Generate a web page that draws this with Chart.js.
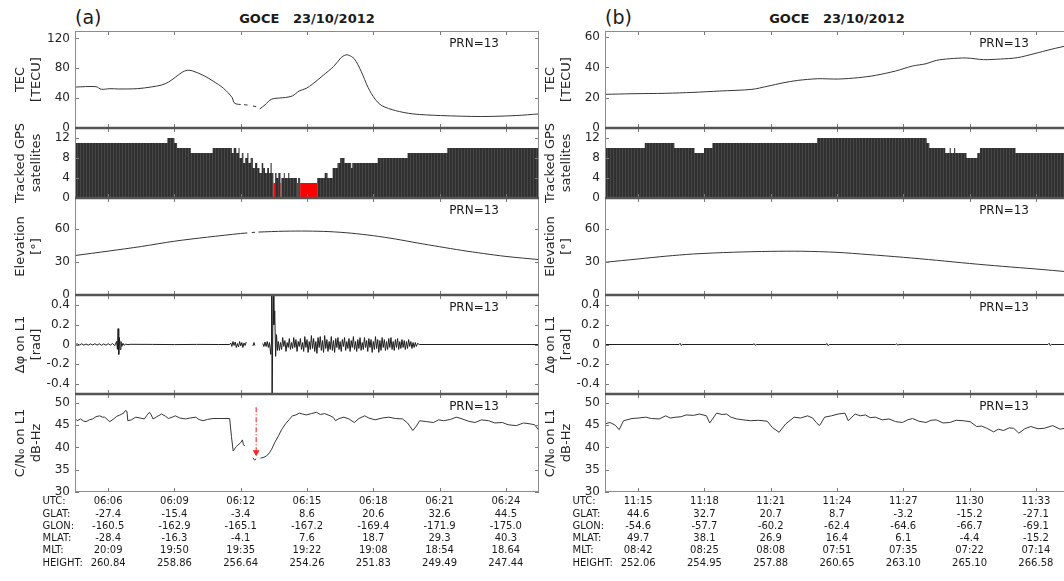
<!DOCTYPE html>
<html>
<head>
<meta charset="utf-8">
<script src="https://cdn.jsdelivr.net/npm/chart.js@4.4.1/dist/chart.umd.min.js"></script>
<style>
  body { margin: 0; background: #fff; }
  #fig { position: relative; width: 1064px; height: 581px; overflow: hidden; background: #fff; font-family: 'DejaVu Sans', sans-serif; color: #1a1a1a; }
  #fig canvas { position: absolute; }
  .tag { position: absolute; font-size: 19px; line-height: 22px; }
  .ttl { position: absolute; width: 464px; text-align: center; font-weight: bold; font-size: 13px; line-height: 15px; white-space: pre; }
</style>
</head>
<body>
<div id="fig">
  <div class="tag" style="left:75px;top:6px">(a)</div>
  <div class="ttl" style="left:75px;top:11px">GOCE   23/10/2012</div>
  <div class="tag" style="left:605px;top:6px">(b)</div>
  <div class="ttl" style="left:605px;top:11px">GOCE   23/10/2012</div>
</div>
<script>
"use strict";

// ---- time axis (minutes after the hour) ----
const xTicksA = [6, 9, 12, 15, 18, 21, 24];
const xTicksB = [15, 18, 21, 24, 27, 30, 33];

// ---- orbit table under the plots ----
const rowNames = ['UTC:', 'GLAT:', 'GLON:', 'MLAT:', 'MLT:', 'HEIGHT:'];
const utcA = ['06:06', '06:09', '06:12', '06:15', '06:18', '06:21', '06:24'];
const glatA = ['-27.4', '-15.4', '-3.4', '8.6', '20.6', '32.6', '44.5'];
const glonA = ['-160.5', '-162.9', '-165.1', '-167.2', '-169.4', '-171.9', '-175.0'];
const mlatA = ['-28.4', '-16.3', '-4.1', '7.6', '18.7', '29.3', '40.3'];
const mltA = ['20:09', '19:50', '19:35', '19:22', '19:08', '18:54', '18.64'];
const heightA = ['260.84', '258.86', '256.64', '254.26', '251.83', '249.49', '247.44'];
const utcB = ['11:15', '11:18', '11:21', '11:24', '11:27', '11:30', '11:33'];
const glatB = ['44.6', '32.7', '20.7', '8.7', '-3.2', '-15.2', '-27.1'];
const glonB = ['-54.6', '-57.7', '-60.2', '-62.4', '-64.6', '-66.7', '-69.1'];
const mlatB = ['49.7', '38.1', '26.9', '16.4', '6.1', '-4.4', '-15.2'];
const mltB = ['08:42', '08:25', '08:08', '07:51', '07:35', '07:22', '07:14'];
const heightB = ['252.06', '254.95', '257.88', '260.65', '263.10', '265.10', '266.58'];

// ---- y ticks ----
const tecTicksA = [0, 40, 80, 120];
const tecTicksB = [0, 20, 40, 60];
const satTicks = [0, 4, 8, 12];
const elevTicks = [0, 30, 60];
const dphiTicks = [-0.4, -0.2, 0, 0.2, 0.4];
const cnTicks = [30, 35, 40, 45, 50];

// ---- TEC [TECU] ----
const tecA = [[4.5,54.9],[5.45,55.4],[5.69,51.9],[6.08,52.7],[6.47,52.3],[7.32,52.7],[7.95,55],[8.42,57.6],[8.73,61.5],
  [9.04,68],[9.35,74.7],[9.58,77.4],[9.82,76.5],[10.29,70.8],[10.75,62.9],[11.22,53.2],[11.61,40.9],[11.69,34.3],
  [11.8,32.2],[12.0,31.5],[12.08,null],[12.15,31.2],[12.31,30.8],[12.4,null],[12.55,29.5],[12.7,28.6],[12.78,null],
  [12.86,25.5],[13.1,31],[13.4,38.7],[14.03,40.9],[14.34,43],[14.65,49.7],[14.96,53],[15.27,59.3],[15.74,70.8],
  [16.21,82.6],[16.52,93.6],[16.67,97],[16.85,98],[17.14,92.7],[17.45,76],[17.77,54],[18.08,38.7],[18.39,29.9],
  [19.01,23.3],[19.79,18.9],[21.04,16.7],[22.91,15.4],[24.47,16.7],[25.5,18.9]];
const tecB = [[13.5,22.2],[14.72,22.6],[16.25,22.9],[17.48,23.5],[18.7,24.4],[20.15,25.5],[20.84,27.5],[21.6,29.9],
  [22.22,31.4],[23.13,32.5],[24.05,32.3],[24.97,33.2],[25.73,34.7],[26.65,37.6],[27.42,40.9],[28.03,42.4],[28.49,44.6],
  [29.1,45.7],[29.86,46.2],[30.63,45.1],[31.39,45.5],[32.16,46.4],[32.92,49],[33.69,51.9],[34.5,54.6]];

// ---- tracked GPS satellites (value holds from each time on) ----
const satsA = [[4.5,11],[8.68,12],[9.0,11],[9.12,10],[9.74,9],[10.73,10],[11.6,9],[11.68,10],[11.8,9],[11.9,10],
  [11.95,8],[12.05,9],[12.12,7],[12.2,8],[12.3,9],[12.35,7],[12.45,8],[12.55,6],[12.65,7],[12.75,6],[12.85,5],
  [12.95,7],[13.02,6],[13.1,5],[13.2,6],[13.28,5],[13.35,7],[13.4,5],[13.48,3],[13.55,5],[13.62,4],[13.7,5],
  [13.8,3],[13.84,4],[13.95,5],[14.0,4],[14.15,5],[14.2,4],[14.55,3],[14.6,4],[14.69,3],[15.46,4],[15.8,5],
  [15.93,4],[16.16,6],[16.38,7],[16.5,8],[16.7,7],[17.0,6],[17.05,7],[18.2,8],[19.55,9],[21.35,10],[25.5,10]];
const satsB = [[13.5,10],[15.3,11],[16.64,10],[17.55,9],[17.98,10],[18.36,11],[23.1,12],[28.06,11],[28.18,10],
  [28.9,9],[29.1,10],[29.15,9],[29.3,10],[29.35,9],[29.86,8],[30.35,9],[30.47,10],[32.08,9],[34.5,9]];

// ---- elevation [deg] ----
const elevA = [[4.5,35.8],[6,39.8],[7.5,44],[9,48.8],[10.5,52.5],[12,55.8],[12.3,56.3],[12.36,null],[12.5,56.7],
  [12.65,56.9],[12.72,null],[12.8,57.1],[14,57.9],[15,58],[16,57.5],[17,56.1],[18,53.8],[19,50.8],[20,47.2],
  [21,43.8],[22,40.5],[23,37.6],[24,35],[25.5,32.1]];
const elevB = [[13.5,29.7],[15,32.7],[16.25,35.2],[17.5,37.2],[19.3,38.8],[21,39.6],[22.4,39.7],[24,38.7],
  [25.4,36.7],[27,34.2],[28.5,31.5],[30,28.6],[31.5,26],[33,23.6],[34.5,21]];

// ---- phase fluctuation on L1 [rad] ----
const dphiA = [[4.5,0],[4.6,0.006],[4.7,-0.005],[4.8,0.007],[4.9,-0.006],[5.0,0.005],[5.1,-0.007],[5.2,0.006],
  [5.3,-0.005],[5.4,0.008],[5.5,-0.006],[5.6,0.007],[5.7,-0.008],[5.8,0.006],[5.9,-0.007],[6.0,0.008],[6.1,-0.006],
  [6.2,0.01],[6.3,-0.012],[6.38,0.03],[6.42,-0.05],[6.45,0.16],[6.48,-0.1],[6.51,0.07],[6.54,-0.05],[6.58,0.03],
  [6.62,-0.02],[6.67,0.012],[6.72,-0.008],[6.8,0.004],[6.9,-0.002],[7.0,0.002],[8,0.001],[9,-0.001],[10,0.001],
  [11,0],[11.5,0],[11.55,0.015],[11.6,-0.02],[11.65,0.03],[11.7,-0.01],[11.75,0.025],[11.8,-0.03],[11.85,0.01],
  [11.9,-0.025],[11.95,0.03],[12.0,-0.015],[12.05,0.02],[12.1,-0.03],[12.15,0.015],[12.2,-0.01],[12.25,0.025],
  [12.3,null],[12.55,-0.015],[12.6,0.02],[12.64,-0.01],[12.7,null],[13.0,0.01],[13.05,-0.02],[13.1,0.025],
  [13.15,-0.02],[13.2,0.03],[13.25,-0.03],[13.3,0.02],[13.36,-0.1],[13.38,0],[13.4,0.7],[13.42,-0.7],[13.45,-0.7],
  [13.47,0.7],[13.5,0.2],[13.54,0.34],[13.58,-0.12],[13.62,0.1],[13.66,-0.06],
  [13.7,0.03],[13.75,-0.06],[13.8,0.02],[13.85,-0.05],[13.9,0.07],[13.95,-0.02],[14.0,0.04],[14.05,-0.07],
  [14.1,0.02],[14.15,-0.03],[14.2,0.06],[14.25,-0.05],[14.3,0.02],[14.35,-0.04],[14.4,0.07],[14.45,-0.03],
  [14.5,0.05],[14.55,-0.07],[14.6,0.03],[14.65,-0.02],[14.7,0.06],[14.75,-0.05],[14.8,0.02],[14.85,-0.07],
  [14.9,0.08],[14.95,-0.03],[15.0,0.05],[15.05,-0.08],[15.1,0.03],[15.15,-0.05],[15.2,0.09],[15.25,-0.04],
  [15.3,0.06],[15.35,-0.07],[15.4,0.03],[15.45,-0.09],[15.5,0.07],[15.55,-0.03],[15.6,0.08],[15.65,-0.06],
  [15.7,0.04],[15.75,-0.08],[15.8,0.09],[15.85,-0.04],[15.9,0.05],[15.95,-0.07],[16.0,0.03],[16.05,-0.05],
  [16.1,0.08],[16.15,-0.06],[16.2,0.04],[16.25,-0.08],[16.3,0.06],[16.35,-0.03],[16.4,0.07],[16.45,-0.05],
  [16.5,0.03],[16.55,-0.07],[16.6,0.05],[16.65,-0.02],[16.7,0.07],[16.75,-0.06],[16.8,0.03],[16.85,-0.04],
  [16.9,0.06],[16.95,-0.07],[17.0,0.04],[17.05,-0.03],[17.1,0.08],[17.15,-0.05],[17.2,0.03],[17.25,-0.07],
  [17.3,0.05],[17.35,-0.04],[17.4,0.07],[17.45,-0.06],[17.5,0.02],[17.55,-0.05],[17.6,0.07],[17.65,-0.03],
  [17.7,0.04],[17.75,-0.07],[17.8,0.06],[17.85,-0.03],[17.9,0.05],[17.95,-0.08],[18.0,0.03],[18.05,-0.05],
  [18.1,0.08],[18.15,-0.04],[18.2,0.05],[18.25,-0.08],[18.3,0.04],[18.35,-0.06],[18.4,0.07],[18.45,-0.03],
  [18.5,0.05],[18.55,-0.06],[18.6,0.03],[18.65,-0.05],[18.7,0.06],[18.75,-0.03],[18.8,0.07],[18.85,-0.05],
  [18.9,0.03],[18.95,-0.06],[19.0,0.05],[19.05,-0.03],[19.1,0.06],[19.15,-0.05],[19.2,0.03],[19.25,-0.04],
  [19.3,0.05],[19.35,-0.03],[19.4,0.04],[19.45,-0.05],[19.5,0.03],[19.55,-0.04],[19.6,0.05],[19.65,-0.02],
  [19.7,0.03],[19.75,-0.04],[19.8,0.02],[19.85,-0.03],[19.9,0.02],[19.95,-0.02],[20.0,0.01],[20.1,0],[25.5,0]];
const dphiB = [[13.5,0],[16.85,0],[16.9,0.012],[16.95,-0.01],[17.0,0],[20.2,0],[20.25,0.008],[20.3,-0.008],
  [20.35,0],[23.5,0],[23.55,0.01],[23.6,-0.012],[23.65,0],[26.65,0],[26.7,0.007],[26.75,-0.007],[26.8,0],
  [33.55,0],[33.6,0.012],[33.65,-0.01],[33.7,0],[34.5,0]];

// ---- C/N0 on L1 [dB-Hz] ----
const cnA = [[4.5,46.5],[4.6,46],[4.75,46.4],[4.9,45.9],[5.0,45.8],[5.15,46.2],[5.3,46.4],[5.45,46.9],[5.61,47.1],
  [5.75,46.8],[5.84,46.8],[6.0,46.1],[6.08,45.8],[6.25,46.4],[6.39,47],[6.5,47.2],[6.62,47.5],[6.72,47.8],
  [6.78,48.3],[6.85,48.1],[6.89,46],[7.05,46.2],[7.25,46.8],[7.45,46.6],[7.64,46.4],[7.75,47.2],[7.87,47.9],
  [7.95,47.3],[8.03,46.4],[8.2,46.9],[8.42,47.5],[8.6,47],[8.73,46.5],[8.9,46.8],[9.04,47.1],[9.25,46.6],
  [9.51,46.4],[9.7,46.6],[9.97,46.8],[10.1,46.3],[10.29,46],[10.5,46.3],[10.75,46.5],[11.1,46.5],[11.5,46.5],
  [11.58,42.5],[11.66,39.2],[11.8,40.2],[12.0,41.1],[12.08,41.7],[12.12,40.6],[12.19,40.4],[12.25,null],
  [12.55,37.7],[12.62,37.2],[12.7,37.4],[12.78,null],[12.89,37.6],[13.05,37.8],[13.17,38.1],[13.3,38.8],
  [13.4,39.6],[13.55,41.2],[13.71,42.6],[13.85,44],[14.03,45.3],[14.2,46.3],[14.34,47.1],[14.5,47.3],[14.65,47.7],
  [14.8,47.5],[14.96,47.3],[15.2,47.6],[15.43,47.9],[15.6,47.4],[15.8,47.6],[16.05,47.1],[16.2,46.7],[16.29,46],
  [16.45,46.5],[16.67,46.8],[16.9,46.4],[17.14,45.6],[17.35,46.5],[17.61,47.1],[17.8,46.6],[18.08,46.2],
  [18.4,46.6],[18.7,46.8],[19.0,46.5],[19.32,46.4],[19.55,45.5],[19.79,43.8],[19.95,44.8],[20.1,46],[20.4,45.8],
  [20.73,45.6],[20.95,46.2],[21.19,46],[21.5,46.3],[21.75,46.8],[21.97,46.5],[22.3,45.9],[22.6,45.6],[22.9,46.2],
  [23.22,46],[23.5,45.5],[23.84,45.6],[24.1,45.1],[24.47,44.9],[24.8,45.5],[25.09,45.3],[25.3,45.1],[25.5,43.8]];
const cnB = [[13.5,45.3],[13.73,45.6],[13.96,45],[14.14,44],[14.34,46],[14.72,46.5],[15.0,46.6],[15.34,46.8],
  [15.6,46.5],[15.95,46.4],[16.25,47.1],[16.45,46.6],[16.71,46.8],[16.95,46.9],[17.17,47.3],[17.5,47.2],
  [17.78,47.5],[18.09,47.1],[18.24,45.5],[18.55,47.7],[18.8,47.4],[19.0,47.5],[19.2,46.8],[19.46,46.4],
  [19.75,46.2],[20.08,46],[20.45,46.1],[20.84,45.9],[21.07,44.5],[21.38,43.4],[21.68,45.3],[22.06,46.8],
  [22.35,46.6],[22.67,47.1],[22.9,46.6],[23.06,45.6],[23.21,44.9],[23.44,46.8],[23.75,47.1],[24.05,47.5],
  [24.36,47.7],[24.51,46],[24.82,47.5],[25.05,47.1],[25.28,47.3],[25.5,46.7],[25.73,46.8],[26.05,46.2],
  [26.35,46.4],[26.65,45.8],[26.96,45.6],[27.2,46.2],[27.42,46.5],[27.7,45.9],[28.03,45.6],[28.25,46.1],
  [28.49,46.2],[28.8,45.5],[29.1,45.6],[29.4,46.1],[29.71,46],[30.02,45.8],[30.32,44.7],[30.55,44.8],
  [30.78,44.3],[31.09,43.5],[31.3,44.1],[31.54,43.8],[31.8,44.4],[32.0,44.3],[32.23,43.2],[32.5,44.2],
  [32.77,44.7],[33.1,44.2],[33.38,44.3],[33.76,44.9],[34.1,44.1],[34.5,44.5]];
const arrowA = [[12.7,49],[12.7,38.9]];

// ---- drawing ----
const FONT = "'DejaVu Sans', 'Liberation Sans', sans-serif";
const LINE = '#363636';
const INK = '#262626';
Chart.defaults.font.family = FONT;
Chart.defaults.color = INK;

const toXY = arr => arr.map(p => ({x: p[0], y: p[1]}));

const barFill = (() => {
  const c = document.createElement('canvas');
  c.width = 3; c.height = 4;
  const g = c.getContext('2d');
  g.fillStyle = '#303030'; g.fillRect(0, 0, 3, 4);
  g.fillStyle = '#474747'; g.fillRect(2, 0, 1, 4);
  return g.createPattern(c, 'repeat');
})();

const ROWS = {
  tec:  {top: 31,  bottom: 128},
  sats: {top: 128, bottom: 198},
  elev: {top: 198, bottom: 295},
  dphi: {top: 295, bottom: 394},
  cn:   {top: 394, bottom: 492}
};
const PAD_T = 14, PAD_B = 14, TABLE_H = 85, LINE_H = 12.3, TABLE_PAD = 3.5;

// box, inward ticks, PRN text and row names
const frame = {
  id: 'frame',
  afterDraw(chart, args, o) {
    const {ctx, chartArea: a, scales: {x, y}} = chart;
    ctx.save();
    ctx.strokeStyle = '#7a7a7a';
    ctx.lineWidth = 1;
    ctx.beginPath();
    x.ticks.forEach(t => {
      const px = Math.round(x.getPixelForValue(t.value)) + 0.5;
      ctx.moveTo(px, a.top); ctx.lineTo(px, a.top + 4);
      ctx.moveTo(px, a.bottom); ctx.lineTo(px, a.bottom - 4);
    });
    y.ticks.forEach(t => {
      const py = Math.round(y.getPixelForValue(t.value)) + 0.5;
      ctx.moveTo(a.left, py); ctx.lineTo(a.left + 4, py);
      ctx.moveTo(a.right, py); ctx.lineTo(a.right - 4, py);
    });
    ctx.stroke();

    ctx.strokeStyle = '#8c8c8c';
    ctx.beginPath();
    ctx.moveTo(a.left + 0.5, a.top); ctx.lineTo(a.left + 0.5, a.bottom);
    ctx.moveTo(a.right - 0.5, a.top); ctx.lineTo(a.right - 0.5, a.bottom);
    ctx.stroke();
    ctx.strokeStyle = o.firstRow ? '#8c8c8c' : '#555';
    ctx.lineWidth = o.firstRow ? 1 : 1.5;
    ctx.beginPath(); ctx.moveTo(a.left, a.top + 0.5); ctx.lineTo(a.right, a.top + 0.5); ctx.stroke();
    ctx.strokeStyle = o.lastRow ? '#8c8c8c' : '#555';
    ctx.lineWidth = o.lastRow ? 1 : 1.5;
    ctx.beginPath(); ctx.moveTo(a.left, a.bottom - 0.5); ctx.lineTo(a.right, a.bottom - 0.5); ctx.stroke();

    ctx.fillStyle = '#1a1a1a';
    if (o.prn) {
      ctx.font = '12px ' + FONT;
      ctx.textAlign = 'right';
      ctx.textBaseline = 'middle';
      ctx.fillText(o.prn, a.right - 40, a.top + 12.5);
    }
    if (o.lastRow) {
      ctx.font = '10px ' + FONT;
      ctx.textAlign = 'left';
      ctx.textBaseline = 'middle';
      rowNames.forEach((r, i) => {
        ctx.fillText(r, 42.5, a.bottom + TABLE_PAD + LINE_H / 2 + i * LINE_H);
      });
    }
    ctx.restore();
  }
};

function panel(col, rowKey, yMin, yMax, yTicks, yTitle, datasets, prn) {
  const row = ROWS[rowKey];
  const last = rowKey === 'cn';
  const h = (row.bottom - row.top) + PAD_T + (last ? TABLE_H : PAD_B);
  const canvas = document.createElement('canvas');
  canvas.width = 548;
  canvas.height = h;
  canvas.style.left = col.left + 'px';
  canvas.style.top = (row.top - PAD_T) + 'px';
  document.getElementById('fig').appendChild(canvas);

  new Chart(canvas, {
    type: 'line',
    data: {datasets: datasets},
    options: {
      responsive: false,
      animation: false,
      devicePixelRatio: 1,
      events: [],
      layout: {padding: {left: 13, right: 9, top: PAD_T, bottom: last ? 0 : PAD_B}},
      elements: {point: {radius: 0}},
      plugins: {
        legend: {display: false},
        tooltip: {enabled: false},
        frame: {prn: prn, firstRow: rowKey === 'tec', lastRow: last}
      },
      scales: {
        x: {
          type: 'linear',
          min: col.xMin,
          max: col.xMax,
          display: last,
          afterBuildTicks: s => { s.ticks = col.ticks.map(v => ({value: v})); },
          afterFit: s => { if (last) s.height = TABLE_H; },
          grid: {display: false, drawTicks: false},
          border: {display: false},
          ticks: {
            autoSkip: false,
            maxRotation: 0,
            padding: TABLE_PAD,
            color: '#1a1a1a',
            font: {size: 10, lineHeight: LINE_H + 'px'},
            callback: (v, i) => col.table.map(r => r[i])
          }
        },
        y: {
          min: yMin,
          max: yMax,
          afterBuildTicks: s => { s.ticks = yTicks.map(v => ({value: v})); },
          afterFit: s => { s.width = 62; },
          grid: {display: false, drawTicks: false},
          border: {display: false},
          ticks: {autoSkip: false, padding: 5, font: {size: 12}},
          title: {display: true, text: yTitle, padding: 0, font: {size: 13, lineHeight: '16px'}}
        }
      }
    },
    plugins: [frame]
  });
}

function line(arr, extra) {
  return Object.assign({data: toXY(arr), borderColor: LINE, borderWidth: 1, tension: 0, spanGaps: false}, extra || {});
}

function satSets(arr) {
  const dark = arr.map(p => [p[0], p[1] >= 4 ? p[1] : 0]);
  const red = arr.map(p => [p[0], p[1] < 4 ? p[1] : 0]);
  return [
    {data: toXY(dark), stepped: true, fill: 'origin', backgroundColor: barFill, borderWidth: 0},
    {data: toXY(red), stepped: true, fill: 'origin', backgroundColor: '#ff0000', borderWidth: 0}
  ];
}

const colA = {left: 0, xMin: 4.5, xMax: 25.5, ticks: xTicksA,
  table: [utcA, glatA, glonA, mlatA, mltA, heightA]};
const colB = {left: 530, xMin: 13.5, xMax: 34.5, ticks: xTicksB,
  table: [utcB, glatB, glonB, mlatB, mltB, heightB]};

const PRN = 'PRN=13';
const T_TEC = ['TEC', '[TECU]'];
const T_SAT = ['Tracked GPS', 'satellites'];
const T_ELEV = ['Elevation', '[°]'];
const T_DPHI = ['Δφ on L1', '[rad]'];
const T_CN = ['C/N₀ on L1', 'dB-Hz'];

// column (a)
panel(colA, 'tec', 0, 130, tecTicksA, T_TEC, [line(tecA, {tension: 0.3})], PRN);
panel(colA, 'sats', 0, 14, satTicks, T_SAT, satSets(satsA), null);
panel(colA, 'elev', 0, 88, elevTicks, T_ELEV, [line(elevA, {tension: 0.3})], PRN);
panel(colA, 'dphi', -0.5, 0.5, dphiTicks, T_DPHI, [line(dphiA, {borderColor: '#1e1e1e'})], PRN);
panel(colA, 'cn', 30, 52, cnTicks, T_CN, [
  line(cnA),
  line(arrowA, {borderColor: '#ff3b3b', borderWidth: 1.2, borderDash: [5, 2, 1, 2],
    pointRadius: [0, 4], pointStyle: 'triangle', rotation: 180,
    pointBackgroundColor: '#ff2020', pointBorderWidth: 0})
], PRN);

// column (b)
panel(colB, 'tec', 0, 64, tecTicksB, T_TEC, [line(tecB, {tension: 0.3})], PRN);
panel(colB, 'sats', 0, 14, satTicks, T_SAT, satSets(satsB), null);
panel(colB, 'elev', 0, 88, elevTicks, T_ELEV, [line(elevB, {tension: 0.3})], PRN);
panel(colB, 'dphi', -0.5, 0.5, dphiTicks, T_DPHI, [line(dphiB, {borderColor: '#1e1e1e'})], PRN);
panel(colB, 'cn', 30, 52, cnTicks, T_CN, [line(cnB)], PRN);
</script>
</body>
</html>
